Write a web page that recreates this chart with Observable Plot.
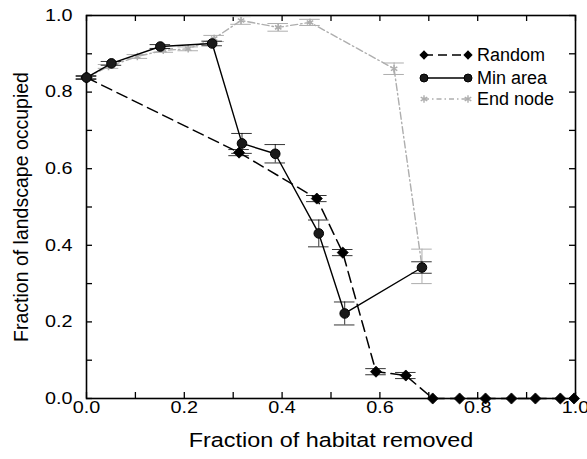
<!DOCTYPE html>
<html>
<head>
<meta charset="utf-8">
<script src="https://cdn.jsdelivr.net/npm/d3@7"></script>
<script src="https://cdn.jsdelivr.net/npm/@observablehq/plot@0.6"></script>
<style>
  html, body { margin: 0; padding: 0; background: #fff; }
  svg { font-family: "Liberation Sans", Arial, sans-serif; }
</style>
</head>
<body>
<div id="chart"></div>
<script>
// Random removal
const randomX = [0, 0.312, 0.471, 0.524, 0.592, 0.653, 0.708, 0.763, 0.816, 0.869, 0.918, 0.969, 0.997];
const randomY = [0.838, 0.642, 0.522, 0.381, 0.070, 0.060, 0, 0, 0, 0, 0, 0, 0];
const randomErr = [0.004, 0.008, 0.008, 0.008, 0.008, 0.008, 0, 0, 0, 0, 0, 0, 0];

// Min area removal
const minX = [0, 0.051, 0.151, 0.257, 0.318, 0.386, 0.475, 0.528, 0.686];
const minY = [0.838, 0.875, 0.919, 0.927, 0.666, 0.639, 0.431, 0.222, 0.342];
const minErr = [0.004, 0.005, 0.005, 0.006, 0.026, 0.024, 0.035, 0.03, 0.015];

// End node removal
const endX = [0, 0.045, 0.104, 0.157, 0.208, 0.261, 0.316, 0.392, 0.457, 0.629, 0.686];
const endY = [0.838, 0.867, 0.893, 0.909, 0.913, 0.940, 0.987, 0.969, 0.982, 0.861, 0.345];
const endErr = [0.004, 0.005, 0.005, 0.005, 0.005, 0.008, 0.01, 0.01, 0.008, 0.015, 0.045];

const xTicks = [0, 0.2, 0.4, 0.6, 0.8, 1.0];
const yTicks = [0, 0.2, 0.4, 0.6, 0.8, 1.0];
const minorTicks = [0, 0.1, 0.2, 0.3, 0.4, 0.5, 0.6, 0.7, 0.8, 0.9, 1.0];

const toRows = (xs, ys, es) => xs.map((x, i) => ({x, y: ys[i], e: es[i]}));
const random = toRows(randomX, randomY, randomErr);
const minArea = toRows(minX, minY, minErr);
const endNode = toRows(endX, endY, endErr);

const capHalf = 0.021;
const errMarks = (rows, color, w) => {
  const r = rows.filter(d => d.e > 0);
  return [
    Plot.ruleY(r, {y: d => d.y + d.e, x1: d => d.x - capHalf, x2: d => d.x + capHalf, stroke: color, strokeWidth: w}),
    Plot.ruleY(r, {y: d => d.y - d.e, x1: d => d.x - capHalf, x2: d => d.x + capHalf, stroke: color, strokeWidth: w}),
    Plot.ruleX(r, {x: "x", y1: d => d.y - d.e, y2: d => d.y + d.e, stroke: color, strokeWidth: w})
  ];
};

const endColor = "#aeaeae";
const W = 587, H = 459, mL = 86, mR = 12, mT = 15, mB = 61;
const tickLen = 6;
const innerW = W - mL - mR, innerH = H - mT - mB;

const chart = Plot.plot({
  width: W,
  height: H,
  marginLeft: mL,
  marginRight: mR,
  marginTop: mT,
  marginBottom: mB,
  style: {fontFamily: "'Liberation Sans', Arial, sans-serif", background: "#fff"},
  x: {domain: [0, 1]},
  y: {domain: [0, 1]},
  marks: [
    // inward ticks on all four sides
    Plot.tickX(minorTicks, {x: d => d, insetTop: innerH - tickLen, stroke: "#000", strokeWidth: 1.3}),
    Plot.tickX(minorTicks, {x: d => d, insetBottom: innerH - tickLen, stroke: "#000", strokeWidth: 1.3}),
    Plot.tickY(minorTicks, {y: d => d, insetRight: innerW - tickLen, stroke: "#000", strokeWidth: 1.3}),
    Plot.tickY(minorTicks, {y: d => d, insetLeft: innerW - tickLen, stroke: "#000", strokeWidth: 1.3}),
    Plot.axisX(xTicks, {anchor: "bottom", tickSize: 0, tickPadding: 3, tickFormat: d3.format(".1f"), fontSize: 16.5, fill: "#000", label: "Fraction of habitat removed", labelAnchor: "center", labelOffset: 48, labelArrow: "none"}),
    Plot.axisY(yTicks, {anchor: "left", tickSize: 0, tickPadding: 14, tickFormat: d3.format(".1f"), fontSize: 16.5, fill: "#000", label: "Fraction of landscape occupied", labelAnchor: "center", labelOffset: 72, labelArrow: "none"}),
    Plot.frame({stroke: "#000", strokeWidth: 1.6}),
    // End node
    ...errMarks(endNode, endColor, 1),
    Plot.line(endNode, {x: "x", y: "y", stroke: endColor, strokeWidth: 1.4, strokeDasharray: "7,3,1.5,3"}),
    Plot.dot(endNode, {x: "x", y: "y", symbol: "asterisk", r: 3.5, stroke: endColor, strokeWidth: 1.5}),
    // Random
    ...errMarks(random, "#000", 0.8),
    Plot.line(random, {x: "x", y: "y", stroke: "#000", strokeWidth: 1.5, strokeDasharray: "11,6"}),
    Plot.dot(random, {x: "x", y: "y", symbol: "diamond2", r: 5, fill: "#000", stroke: "#000", strokeWidth: 0.8}),
    // Min area
    ...errMarks(minArea, "#000", 0.8),
    Plot.line(minArea, {x: "x", y: "y", stroke: "#000", strokeWidth: 1.4}),
    Plot.dot(minArea, {x: "x", y: "y", r: 4.8, fill: "#1a1a1a", stroke: "#000", strokeWidth: 1})
  ]
});

document.getElementById("chart").appendChild(chart);
const svg = d3.select(chart);

// the reference glyphs are a little wider than tall: stretch horizontal texts slightly
const stretch = (sel, k) => sel.each(function () {
  const t = this.getAttribute("transform") || "";
  this.setAttribute("transform", t + ` scale(${k},1)`);
});
stretch(svg.selectAll("[aria-label='x-axis tick label'] text, [aria-label='y-axis tick label'] text"), 1.2);
svg.selectAll("[aria-label='x-axis label'] text").style("font-size", "19.5px").attr("fill", "#000");
svg.selectAll("[aria-label='y-axis label'] text").style("font-size", "19.5px").attr("fill", "#000");
stretch(svg.selectAll("[aria-label='x-axis label'] text"), 1.2);

// legend
const lg = svg.append("g").attr("font-family", "'Liberation Sans', Arial, sans-serif").attr("font-size", 18).attr("text-anchor", "start");
const entries = [
  {name: "Random", y: 55, stroke: "#000", dash: "9,5", sym: "diamond"},
  {name: "Min area", y: 78, stroke: "#000", dash: null, sym: "circle"},
  {name: "End node", y: 99, stroke: endColor, dash: "5,3,1.5,3", sym: "asterisk"}
];
const lx0 = 424, lx1 = 468;
for (const e of entries) {
  lg.append("line").attr("x1", lx0).attr("x2", lx1).attr("y1", e.y).attr("y2", e.y)
    .attr("stroke", e.stroke).attr("stroke-width", 1.4).attr("stroke-dasharray", e.dash);
  for (const xx of [lx0, lx1]) {
    if (e.sym === "diamond") {
      lg.append("path").attr("d", d3.symbol(d3.symbolDiamond2, 55)()).attr("transform", `translate(${xx},${e.y})`).attr("fill", "#000");
    } else if (e.sym === "circle") {
      lg.append("circle").attr("cx", xx).attr("cy", e.y).attr("r", 4).attr("fill", "#1a1a1a").attr("stroke", "#000");
    } else {
      lg.append("path").attr("d", d3.symbol(d3.symbolAsterisk, 40)()).attr("transform", `translate(${xx},${e.y})`).attr("fill", "none").attr("stroke", endColor).attr("stroke-width", 1.4);
    }
  }
  lg.append("text").attr("x", 477).attr("y", e.y).attr("dy", "0.36em").attr("fill", "#000").text(e.name);
}
</script>
</body>
</html>
